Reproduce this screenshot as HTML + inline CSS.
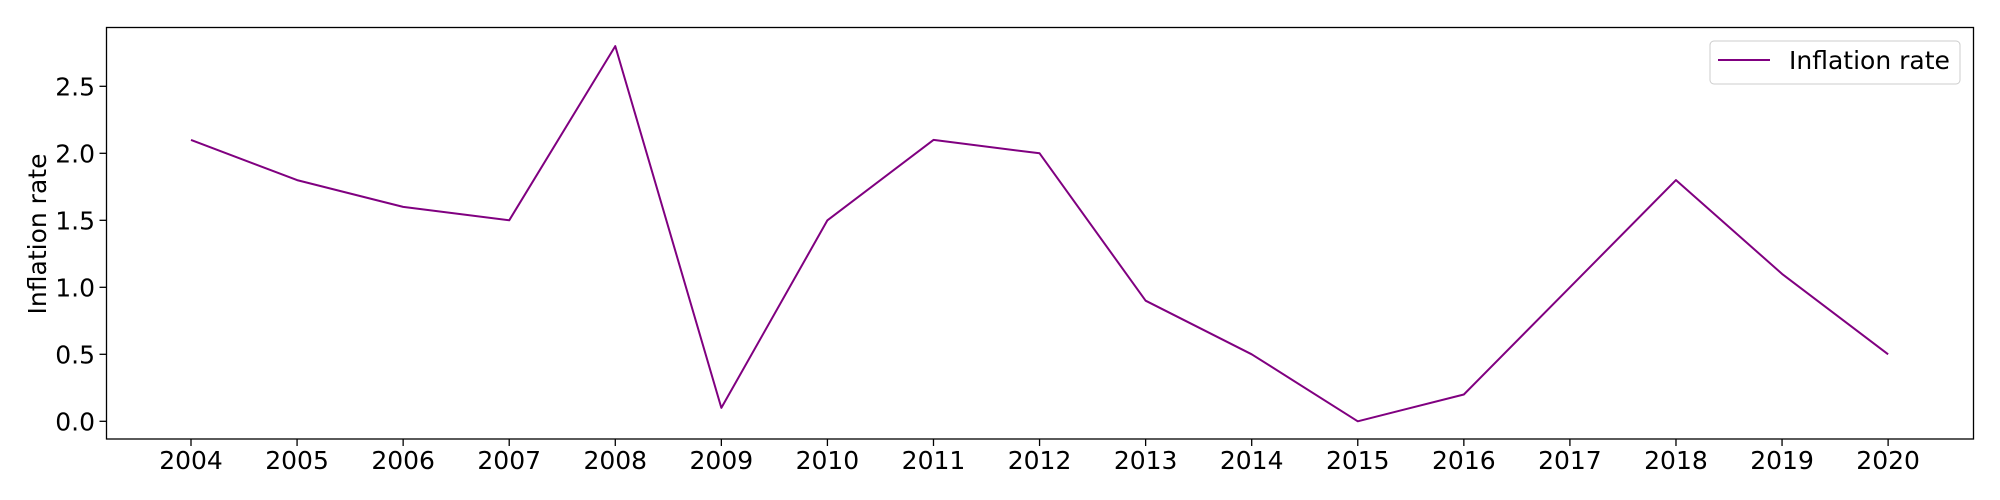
<!DOCTYPE html>
<html><head><meta charset="utf-8"><style>
html,body{margin:0;padding:0;background:#fff;}
svg{display:block;font-family:"DejaVu Sans","Liberation Sans",sans-serif;}
</style></head><body>
<svg id="chart" width="2000" height="500" viewBox="0 0 2000 500" xmlns="http://www.w3.org/2000/svg">
<g id="ticks"></g>
<polyline id="line" fill="none" stroke="#800080" stroke-width="2" stroke-linejoin="round"></polyline>
<rect x="106.5" y="27.5" width="1867" height="411.5" fill="none" stroke="#000" stroke-width="1.3"></rect>
<text transform="translate(46,234) rotate(-90)" text-anchor="middle" font-size="25">Inflation rate</text>
<g>
<rect x="1710" y="41" width="250" height="43" rx="4" fill="#fff" stroke="#ccc" stroke-width="1"></rect>
<line x1="1718" y1="60" x2="1770" y2="60" stroke="#800080" stroke-width="2"></line>
<text x="1789" y="69" font-size="25">Inflation rate</text>
</g>
</svg>
<script>
const years = [2004,2005,2006,2007,2008,2009,2010,2011,2012,2013,2014,2015,2016,2017,2018,2019,2020];
const rates = [2.1,1.8,1.6,1.5,2.8,0.1,1.5,2.1,2.0,0.9,0.5,0.0,0.2,1.0,1.8,1.1,0.5];
const yTicks = [0.0,0.5,1.0,1.5,2.0,2.5];
const yTickLabels = ["0.0","0.5","1.0","1.5","2.0","2.5"];
const xScale = v => 191 + (v - 2004) * 106.07;
const yScale = v => 421.3 - v * 134;
const NS = "http://www.w3.org/2000/svg";
const g = document.getElementById('ticks');
years.forEach(yr => {
  const x = xScale(yr);
  const t = document.createElementNS(NS, 'line');
  t.setAttribute('x1', x); t.setAttribute('x2', x); t.setAttribute('y1', 439); t.setAttribute('y2', 446);
  t.setAttribute('stroke', '#000'); t.setAttribute('stroke-width', '1.3');
  
  
  g.appendChild(t);
  const l = document.createElementNS(NS, 'text');
  l.setAttribute('x', x); l.setAttribute('y', 469); l.setAttribute('text-anchor', 'middle'); l.setAttribute('font-size', '25');
  l.textContent = yr;
  
  
  g.appendChild(l);
});
yTicks.forEach((v, i) => {
  const y = yScale(v);
  const t = document.createElementNS(NS, 'line');
  t.setAttribute('x1', 99.5); t.setAttribute('x2', 106.5); t.setAttribute('y1', y); t.setAttribute('y2', y);
  t.setAttribute('stroke', '#000'); t.setAttribute('stroke-width', '1.3');
  
  
  g.appendChild(t);
  const l = document.createElementNS(NS, 'text');
  l.setAttribute('x', 95); l.setAttribute('y', y + 9); l.setAttribute('text-anchor', 'end'); l.setAttribute('font-size', '25');
  l.textContent = yTickLabels[i];
  
  
  g.appendChild(l);
});
document.getElementById('line').setAttribute('points', years.map((yr, i) => xScale(yr) + ',' + yScale(rates[i])).join(' '));
</script>
</body></html>
